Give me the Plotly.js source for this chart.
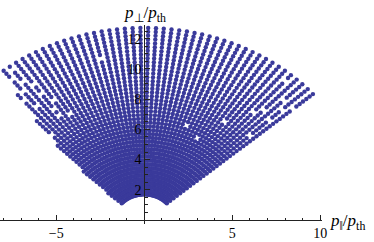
<!DOCTYPE html>
<html>
<head>
<meta charset="utf-8">
<script src="https://cdn.plot.ly/plotly-3.0.1.min.js"></script>
<style>html,body{margin:0;padding:0;background:#fff;}#chart{width:374px;height:242px;}</style>
</head>
<body>
<div id="chart"></div>
<script>
// radii of the arcs (p / p_th)
var radii = [1.7, 1.95, 2.2, 2.45, 2.7, 2.95, 3.2, 3.45, 3.7, 3.95, 4.2, 4.45, 4.7, 4.95, 5.2,
             5.45, 5.7, 5.95, 6.2, 6.45, 6.7, 6.95, 7.2, 7.45, 7.7, 7.95, 8.2, 8.45, 8.7, 8.95,
             9.2, 9.45, 9.7, 9.95, 10.2, 10.45, 10.7, 10.95, 11.2, 11.45, 11.7, 11.95, 12.2, 12.45, 12.7];
// largest pitch angle (deg) kept on each arc
var maxAngle = [139, 139, 139, 139, 139,
                137, 137, 137, 137, 137, 137, 137, 137,
                135, 135, 135, 135, 135, 135, 135, 135, 135,
                133, 133, 133, 133, 133, 133, 133, 133,
                131, 131, 131, 131, 131, 131, 131, 131,
                129, 129, 129, 129, 129, 129, 129];
// pitch angles of the spokes (deg)
var angles = [41, 43, 45, 47, 49, 51, 53, 55, 57, 59, 61, 63, 65, 67, 69, 71, 73, 75, 77, 79,
              81, 83, 85, 87, 89, 91, 93, 95, 97, 99, 101, 103, 105, 107, 109, 111, 113, 115, 117, 119,
              121, 123, 125, 127, 129, 131, 133, 135, 137, 139];
// missing points [radius, angle]
var holes = [[12.2, 49], [11.2, 45], [9.95, 47], [9.45, 49], [7.95, 55], [9.7, 43], [11.2, 41],
             [8.95, 125], [8.45, 125], [10.95, 129], [9.45, 123], [10.95, 103], [6.7, 69],
             [6.2, 61], [8.2, 43], [10.7, 43], [8.2, 121], [10.2, 125], [10.95, 125],
             [12.45, 127], [11.95, 129], [11.45, 127], [10.45, 131], [9.7, 129], [7.7, 133]];
var xTickVals = [-5, 5, 10];
var yTickVals = [2, 4, 6, 8, 10, 12];

function isHole(r, a) {
  for (var k = 0; k < holes.length; k++) {
    if (Math.abs(holes[k][0] - r) < 1e-6 && Math.abs(holes[k][1] - a) < 1e-6) return true;
  }
  return false;
}
var xs = [], ys = [];
for (var i = 0; i < radii.length; i++) {
  for (var j = 0; j < angles.length; j++) {
    if (angles[j] > maxAngle[i]) continue;
    if (isHole(radii[i], angles[j])) continue;
    var t = angles[j] * Math.PI / 180;
    xs.push(radii[i] * Math.cos(t));
    ys.push(radii[i] * Math.sin(t));
  }
}

var xr = [-8.2, 10.1], yr = [-0.26, 12.9];
var xdom = [0, 322 / 374], ydom = [18 / 242, 217 / 242];
var yAxisPos = xdom[0] + (0 - xr[0]) / (xr[1] - xr[0]) * (xdom[1] - xdom[0]);
var xAxisPos = ydom[0] + (0 - yr[0]) / (yr[1] - yr[0]) * (ydom[1] - ydom[0]);

var serif = 'Liberation Serif, Times New Roman, serif';
var tickFont = {family: serif, size: 14, color: '#000'};

Plotly.newPlot('chart', [{
  type: 'scatter', mode: 'markers', x: xs, y: ys,
  marker: {size: 4.4, color: 'rgb(58,58,155)', line: {width: 0}},
  hoverinfo: 'skip', cliponaxis: false
}], {
  width: 374, height: 242,
  margin: {l: 0, r: 0, t: 0, b: 0},
  paper_bgcolor: '#fff', plot_bgcolor: 'rgba(0,0,0,0)',
  showlegend: false,
  xaxis: {
    range: xr, domain: xdom, anchor: 'free', position: xAxisPos,
    showgrid: false, zeroline: false, showline: true, linecolor: '#222', linewidth: 1,
    tickmode: 'array', tickvals: xTickVals, ticks: 'inside', ticklen: 5, tickcolor: '#222',
    minor: {tickmode: 'linear', tick0: 0, dtick: 1, ticks: 'inside', ticklen: 2.5, tickcolor: '#222', showgrid: false},
    tickfont: tickFont, layer: 'above traces'
  },
  yaxis: {
    range: yr, domain: ydom, anchor: 'free', position: yAxisPos, side: 'left',
    showgrid: false, zeroline: false, showline: true, linecolor: '#222', linewidth: 1,
    tickmode: 'array', tickvals: yTickVals, ticks: 'inside', ticklen: 5, tickcolor: '#222',
    minor: {tickmode: 'linear', tick0: 0, dtick: 0.5, ticks: 'inside', ticklen: 2.5, tickcolor: '#222', showgrid: false},
    tickfont: tickFont, layer: 'above traces'
  },
  annotations: [
    {xref: 'paper', yref: 'paper', x: 145 / 374, y: (242 - 14) / 242, xanchor: 'center', yanchor: 'middle',
     text: '<i>p</i><sub>⊥</sub>/<i>p</i><sub>th</sub>', showarrow: false,
     font: {family: serif, size: 17, color: '#000'}},
    {xref: 'paper', yref: 'paper', x: 328 / 374, y: (242 - 222) / 242, xanchor: 'left', yanchor: 'middle',
     text: '<i>p</i><sub>‖</sub>/<i>p</i><sub>th</sub>', showarrow: false,
     font: {family: serif, size: 17, color: '#000'}}
  ]
}, {staticPlot: true});
</script>
</body>
</html>
